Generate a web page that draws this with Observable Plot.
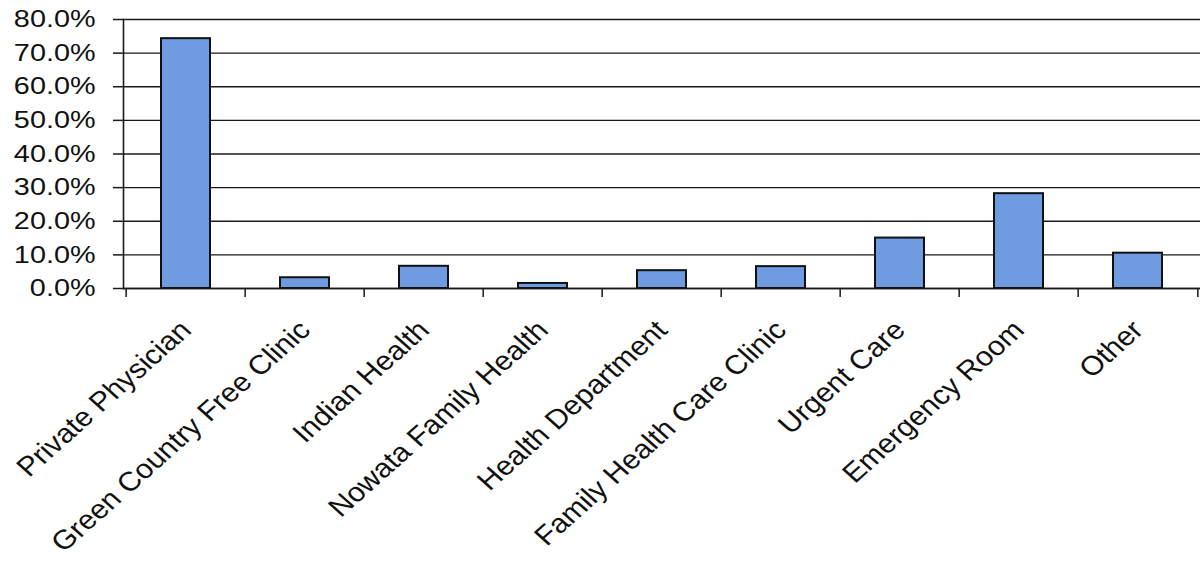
<!DOCTYPE html>
<html>
<head>
<meta charset="utf-8">
<script src="https://cdn.jsdelivr.net/npm/d3@7"></script>
<script src="https://cdn.jsdelivr.net/npm/@observablehq/plot@0.6"></script>
<style>
  html, body { margin: 0; padding: 0; background: #ffffff; }
  #chart { width: 1204px; height: 561px; }
</style>
</head>
<body>
<div id="chart"></div>
<script>
const categories = [
  "Private Physician",
  "Green Country Free Clinic",
  "Indian Health",
  "Nowata Family Health",
  "Health Department",
  "Family Health Care Clinic",
  "Urgent Care",
  "Emergency Room",
  "Other"
];
const values = [74.3, 3.2, 6.6, 1.5, 5.3, 6.5, 15.0, 28.2, 10.5];
const yTicks = [0, 10, 20, 30, 40, 50, 60, 70, 80];

const data = categories.map((c, i) => ({cat: c, val: values[i]}));

const W = 1204, H = 561;
const mL = 123, mR = 4, mT = 19, mB = 273;
const plotW = W - mL - mR;
const plotH = H - mT - mB;
const step = plotW / categories.length;
const stretchY = 1.2;
const stretchX = 1.12;

const svg = Plot.plot({
  width: W,
  height: H,
  marginLeft: mL,
  marginRight: mR,
  marginTop: mT,
  marginBottom: mB,
  style: {fontFamily: "'Liberation Sans', Arial, sans-serif", color: "#111", background: "#ffffff"},
  x: {domain: categories, paddingInner: 0.59, paddingOuter: 0.295, label: null},
  y: {domain: [0, 80], label: null},
  marks: [
    Plot.gridY(yTicks, {stroke: "#1a1a1a", strokeOpacity: 1, strokeWidth: 1.4}),
    Plot.barY(data, {x: "cat", y: "val", fill: "#6f9be1", stroke: "#111", strokeWidth: 2}),
    Plot.ruleY([0], {stroke: "#1a1a1a", strokeWidth: 1.6}),
    Plot.frame({anchor: "left", stroke: "#1a1a1a", strokeWidth: 1.6}),
    Plot.ruleX(categories, {x: d => d, dx: -step / 2, insetTop: plotH, insetBottom: -9, stroke: "#1a1a1a", strokeWidth: 1.5}),
    Plot.ruleX(categories.slice(-1), {x: d => d, dx: step / 2, insetTop: plotH, insetBottom: -9, stroke: "#1a1a1a", strokeWidth: 1.5}),
    Plot.axisY({ticks: yTicks, tickFormat: d => d.toFixed(1) + "%", tickSize: 10, tickPadding: 18, fontSize: 24, stroke: "#1a1a1a", strokeWidth: 1.5, label: null}),
    Plot.axisX({tickRotate: -45, tickSize: 0, tickPadding: 37, fontSize: 27, textAnchor: "end", label: null})
  ]
});

// horizontal stretch of the labels in screen space, as in the reference
svg.querySelectorAll('g[aria-label="y-axis tick label"] text').forEach(t => {
  const tr = t.getAttribute("transform") || "";
  t.setAttribute("transform", `${tr} scale(${stretchY},1)`);
});
svg.querySelectorAll('g[aria-label="x-axis tick label"] text').forEach(t => {
  const tr = t.getAttribute("transform") || "";
  t.setAttribute("transform", tr.includes("rotate(")
    ? tr.replace("rotate(", `scale(${stretchX},1) rotate(`)
    : `${tr} scale(${stretchX},1)`);
});

document.getElementById("chart").appendChild(svg);
</script>
</body>
</html>
